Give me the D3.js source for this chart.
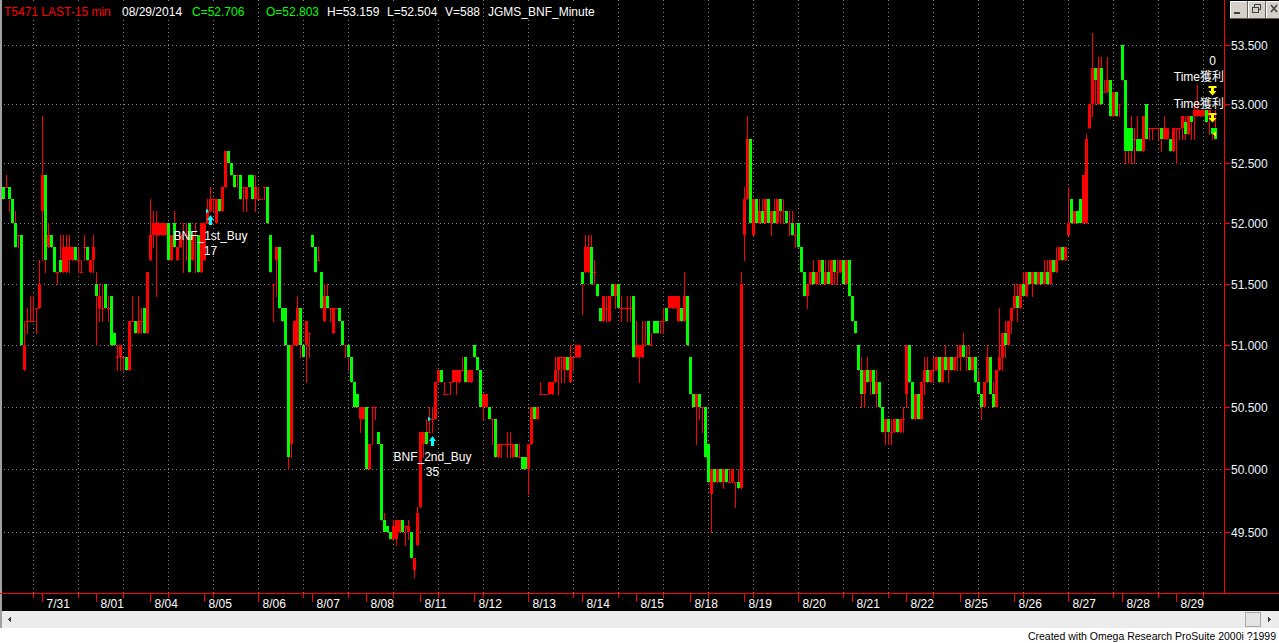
<!DOCTYPE html>
<html><head><meta charset="utf-8">
<script src="https://cdn.jsdelivr.net/npm/d3@7"></script>
<style>
html,body{margin:0;padding:0;background:#fff;overflow:hidden}
svg{display:block}
text{font-family:"Liberation Sans",Arial,"Noto Sans CJK TC","Noto Sans CJK SC",sans-serif;}
</style></head><body>
<svg id="c" width="1279" height="643"></svg>
<script>
// ---------------- DATA ----------------
const headerFields = ["T5471 LAST-15 min","08/29/2014","C=52.706","O=52.803","H=53.159","L=52.504","V=588","JGMS_BNF_Minute"];
const priceTicks = [49.5,50.0,50.5,51.0,51.5,52.0,52.5,53.0,53.5];
const dayLabels = ["7/31","8/01","8/04","8/05","8/06","8/07","8/08","8/11","8/12","8/13","8/14","8/15","8/18","8/19","8/20","8/21","8/22","8/25","8/26","8/27","8/28","8/29"];
const firstSessionBars = 13, barsPerSession = 18;
// 15-min bars: [open, high, low, close]
const ohlc = [
// 7/30
[52.3,52.3,52.2,52.2],[52.3,52.4,52.3,52.3],[52.3,52.3,52.1,52.2],[52.2,52.2,52.0,52.0],[52.0,52.1,51.8,51.8],
[51.9,51.9,51.8,51.9],[51.9,51.9,51.0,51.0],[50.8,51.2,50.8,51.0],[51.2,51.3,51.1,51.2],[51.2,51.4,51.2,51.2],
[51.2,51.4,51.2,51.2],[51.3,51.3,51.1,51.3],[51.3,51.7,51.3,51.5],
// 7/31
[52.1,52.9,51.7,52.4],[52.4,52.4,51.6,51.7],[51.8,52.0,51.8,51.9],[51.9,51.9,51.8,51.8],[51.8,51.8,51.6,51.6],
[51.6,51.6,51.5,51.6],[51.7,51.9,51.6,51.6],[51.6,51.9,51.6,51.8],[51.6,51.9,51.6,51.8],[51.7,51.9,51.6,51.8],
[51.7,51.8,51.7,51.8],[51.8,51.8,51.7,51.7],[51.7,51.8,51.6,51.7],[51.6,51.7,51.6,51.6],[51.8,51.9,51.7,51.8],
[51.8,51.8,51.7,51.7],[51.6,51.7,51.6,51.7],[51.7,51.9,51.6,51.8],
// 8/01
[51.5,51.6,51.0,51.4],[51.3,51.5,51.2,51.4],[51.3,51.5,51.2,51.3],[51.5,51.5,51.3,51.3],[51.3,51.4,51.2,51.3],
[51.4,51.4,51.0,51.0],[51.1,51.1,51.0,51.0],[50.9,51.0,50.8,50.9],[50.9,51.0,50.8,51.0],[50.9,50.9,50.8,50.9],
[50.9,50.9,50.8,50.8],[50.8,51.2,50.8,51.2],[51.2,51.4,51.2,51.2],[51.2,51.2,51.1,51.1],[51.1,51.4,51.1,51.2],
[51.2,51.3,51.1,51.2],[51.3,51.3,51.1,51.1],[51.1,51.6,51.1,51.6],
// 8/04
[51.7,52.2,51.7,51.9],[51.9,52.1,51.8,52.0],[51.9,52.1,51.4,52.0],[51.9,52.0,51.9,52.0],[51.9,52.0,51.9,52.0],
[51.9,52.0,51.9,52.0],[52.0,52.0,51.7,51.7],[51.7,51.9,51.7,51.9],[52.0,52.1,51.8,51.8],[51.7,51.8,51.7,51.8],
[51.8,51.9,51.8,51.9],[51.9,52.0,51.6,51.9],[51.9,52.0,51.7,51.9],[52.0,52.0,51.6,51.6],[51.7,51.9,51.7,51.9],
[51.9,52.0,51.6,51.9],[51.9,51.9,51.6,51.6],[51.6,52.0,51.6,52.0],
// 8/05
[51.7,52.0,51.7,52.0],[52.0,52.2,52.0,52.1],[52.1,52.3,52.1,52.2],[52.2,52.2,52.1,52.2],[52.0,52.2,52.0,52.2],
[52.2,52.2,52.1,52.1],[52.1,52.3,52.1,52.3],[52.3,52.6,52.3,52.6],[52.6,52.6,52.5,52.5],[52.5,52.5,52.4,52.4],
[52.4,52.4,52.3,52.3],[52.4,52.4,52.3,52.4],[52.4,52.4,52.2,52.2],[52.3,52.3,52.1,52.3],[52.2,52.3,52.1,52.3],
[52.4,52.4,52.3,52.3],[52.4,52.4,52.2,52.2],[52.2,52.4,52.1,52.3],
// 8/06
[52.2,52.3,52.2,52.2],[52.2,52.2,52.2,52.2],[52.3,52.3,52.2,52.3],[52.3,52.3,52.0,52.0],[51.9,51.9,51.6,51.6],
[51.5,51.5,51.2,51.5],[51.7,51.8,51.4,51.8],[51.8,51.8,51.3,51.3],[51.3,51.3,51.2,51.2],[51.3,51.3,51.0,51.0],
[51.0,51.0,50.0,50.1],[50.2,51.0,50.1,51.0],[51.0,51.2,51.0,51.2],[51.0,51.4,51.0,51.3],[51.3,51.3,50.9,51.0],
[51.0,51.0,50.9,50.9],[51.0,51.2,50.7,51.2],[51.1,51.1,50.9,51.1],
// 8/07
[51.9,51.9,51.8,51.8],[51.8,51.8,51.6,51.6],[51.7,51.8,51.7,51.7],[51.6,51.6,51.3,51.3],[51.2,51.5,51.2,51.4],
[51.4,51.5,51.3,51.3],[51.3,51.3,51.2,51.3],[51.1,51.3,51.1,51.3],[51.3,51.3,51.3,51.3],[51.3,51.3,51.2,51.2],
[51.2,51.2,51.0,51.0],[51.0,51.0,50.9,51.0],[51.0,51.0,50.8,50.9],[50.9,50.9,50.7,50.7],[50.7,50.7,50.5,50.5],
[50.6,50.6,50.5,50.5],[50.4,50.5,50.3,50.5],[50.4,50.5,50.4,50.5],
// 8/08
[50.5,50.5,50.0,50.0],[50.0,50.2,50.0,50.2],[50.5,50.5,50.2,50.5],[50.5,50.5,50.4,50.5],[50.3,50.3,50.2,50.2],
[50.2,50.2,49.6,49.6],[49.6,49.65,49.5,49.5],[49.55,49.55,49.5,49.5],[49.5,49.5,49.45,49.45],[49.45,49.6,49.45,49.55],
[49.45,49.6,49.4,49.6],[49.5,49.6,49.5,49.6],[49.6,49.6,49.5,49.5],[49.55,49.55,49.4,49.55],[49.5,49.6,49.45,49.55],
[49.5,49.5,49.3,49.3],[49.2,49.3,49.15,49.3],[49.4,49.7,49.4,49.65],
// 8/11
[49.7,50.3,49.7,50.3],[50.2,50.3,50.1,50.3],[50.3,50.4,50.2,50.2],[50.3,50.5,50.3,50.3],[50.4,50.5,50.3,50.4],
[50.4,50.7,50.4,50.7],[50.7,50.8,50.7,50.8],[50.8,50.8,50.7,50.7],[50.6,50.7,50.6,50.6],[50.6,50.6,50.6,50.6],
[50.7,50.7,50.6,50.7],[50.7,50.8,50.7,50.8],[50.7,50.8,50.6,50.8],[50.7,50.8,50.7,50.8],[50.8,50.9,50.8,50.8],
[50.9,50.9,50.7,50.7],[50.7,50.8,50.7,50.8],[50.7,50.8,50.7,50.8],
// 8/12
[51.0,51.0,50.9,50.9],[50.9,50.9,50.8,50.8],[50.8,50.8,50.5,50.5],[50.5,50.6,50.4,50.6],[50.5,50.6,50.5,50.6],
[50.5,50.5,50.4,50.4],[50.4,50.4,50.2,50.4],[50.4,50.4,50.1,50.1],[50.1,50.2,50.1,50.2],[50.2,50.2,50.1,50.2],
[50.2,50.2,50.2,50.2],[50.2,50.3,50.1,50.2],[50.2,50.3,50.1,50.2],[50.1,50.2,50.1,50.2],[50.2,50.2,50.1,50.1],
[50.1,50.2,50.1,50.1],[50.1,50.1,50.0,50.0],[50.1,50.1,50.0,50.0],
// 8/13
[50.0,50.2,49.8,50.2],[50.2,50.5,50.2,50.5],[50.5,50.5,50.4,50.4],[50.4,50.5,50.4,50.5],[50.6,50.7,50.6,50.6],
[50.6,50.6,50.6,50.6],[50.6,50.6,50.6,50.6],[50.6,50.7,50.6,50.7],[50.6,50.7,50.6,50.7],[50.7,50.9,50.7,50.8],
[50.8,50.9,50.6,50.9],[50.9,50.9,50.7,50.9],[50.8,50.9,50.7,50.9],[50.9,50.9,50.8,50.8],[50.7,51.0,50.7,50.9],
[50.9,50.9,50.8,50.9],[50.9,51.0,50.9,51.0],[50.9,51.0,50.9,51.0],
// 8/14
[51.6,51.6,51.25,51.5],[51.6,51.9,51.6,51.8],[51.6,51.9,51.6,51.8],[51.8,51.9,51.5,51.5],[51.6,51.7,51.5,51.6],
[51.5,51.5,51.4,51.4],[51.3,51.3,51.2,51.2],[51.2,51.4,51.2,51.4],[51.3,51.4,51.2,51.3],[51.2,51.4,51.2,51.4],
[51.5,51.5,51.4,51.4],[51.4,51.5,51.3,51.5],[51.5,51.5,51.3,51.3],[51.3,51.4,51.2,51.3],[51.3,51.3,51.3,51.3],
[51.3,51.4,51.2,51.3],[51.3,51.4,51.2,51.3],[51.4,51.4,50.9,50.9],
// 8/15
[50.9,51.2,50.9,51.0],[50.9,51.0,50.7,51.0],[50.9,51.2,50.9,51.0],[51.0,51.2,51.0,51.0],[51.2,51.2,51.0,51.0],
[51.0,51.1,51.0,51.0],[51.2,51.2,51.1,51.1],[51.2,51.2,51.1,51.1],[51.2,51.2,51.1,51.2],[51.2,51.3,51.1,51.2],
[51.3,51.3,51.2,51.2],[51.3,51.4,51.3,51.4],[51.3,51.4,51.3,51.4],[51.3,51.4,51.3,51.4],[51.2,51.4,51.2,51.4],
[51.3,51.3,51.2,51.2],[51.2,51.6,51.2,51.4],[51.4,51.4,51.0,51.0],
// 8/18
[50.9,50.9,50.6,50.6],[50.6,50.6,50.5,50.5],[50.5,50.6,50.2,50.6],[50.6,50.6,50.4,50.5],[50.5,50.5,50.3,50.5],
[50.5,50.5,50.1,50.1],[50.2,50.2,49.9,49.9],[49.8,50.0,49.5,50.0],[50.0,50.0,49.9,49.9],[49.9,50.0,49.9,50.0],
[50.0,50.0,49.9,49.9],[49.9,50.0,49.85,50.0],[50.0,50.0,49.9,49.9],[49.9,50.0,49.9,49.9],[49.9,50.0,49.9,50.0],
[49.9,49.9,49.7,49.9],[49.9,50.0,49.85,49.85],[49.85,51.6,49.85,51.5],
// 8/19
[51.9,52.3,51.7,52.2],[52.2,52.9,52.2,52.7],[52.7,52.7,52.0,52.0],[51.9,52.2,51.9,52.2],[52.2,52.2,52.0,52.0],
[52.0,52.2,52.0,52.1],[52.1,52.2,52.0,52.0],[52.0,52.2,52.0,52.2],[52.2,52.2,52.0,52.0],[52.0,52.1,51.9,52.1],
[52.1,52.2,52.0,52.0],[52.0,52.2,52.0,52.2],[52.2,52.2,52.0,52.1],[52.1,52.2,52.0,52.1],[52.1,52.1,52.0,52.0],
[52.0,52.1,51.9,52.0],[52.0,52.1,51.9,51.9],[51.9,52.0,51.8,51.9],
// 8/20
[52.0,52.0,51.8,51.8],[51.8,51.8,51.6,51.6],[51.6,51.6,51.4,51.4],[51.4,51.5,51.3,51.5],[51.5,51.6,51.5,51.6],
[51.6,51.7,51.5,51.5],[51.5,51.6,51.5,51.6],[51.6,51.7,51.5,51.7],[51.7,51.7,51.5,51.5],[51.5,51.7,51.5,51.6],
[51.6,51.7,51.5,51.5],[51.5,51.7,51.5,51.7],[51.7,51.7,51.5,51.6],[51.6,51.7,51.5,51.6],[51.6,51.7,51.6,51.7],
[51.7,51.7,51.5,51.5],[51.5,51.7,51.5,51.7],[51.7,51.7,51.4,51.4],
// 8/21
[51.4,51.4,51.2,51.2],[51.2,51.2,51.1,51.1],[51.0,51.0,50.8,50.8],[50.8,50.9,50.5,50.6],[50.6,50.8,50.5,50.8],
[50.8,50.9,50.7,50.7],[50.7,50.8,50.6,50.8],[50.8,50.8,50.6,50.6],[50.6,50.8,50.5,50.7],[50.7,50.7,50.5,50.5],
[50.5,50.5,50.3,50.3],[50.3,50.4,50.2,50.4],[50.4,50.4,50.2,50.3],[50.3,50.4,50.2,50.3],[50.3,50.4,50.3,50.4],
[50.4,50.4,50.3,50.3],[50.3,50.4,50.3,50.4],[50.4,50.5,50.3,50.4],
// 8/22
[50.6,51.0,50.5,51.0],[51.0,51.0,50.7,50.7],[50.7,50.7,50.4,50.4],[50.4,50.6,50.4,50.6],[50.6,50.6,50.4,50.4],
[50.4,50.7,50.4,50.7],[50.7,50.9,50.6,50.8],[50.8,50.9,50.7,50.7],[50.7,50.8,50.7,50.8],[50.8,50.9,50.7,50.8],
[50.8,50.9,50.8,50.9],[50.9,50.9,50.7,50.7],[50.7,50.9,50.7,50.9],[50.9,51.0,50.8,50.8],[50.8,50.9,50.7,50.9],
[50.9,50.9,50.8,50.8],[50.8,50.9,50.8,50.9],[50.9,51.0,50.8,50.9],
// 8/25
[50.9,51.0,50.8,51.0],[51.0,51.1,50.9,50.9],[50.9,51.0,50.8,50.9],[50.9,51.0,50.8,50.8],[50.8,50.9,50.8,50.9],
[50.9,50.9,50.7,50.7],[50.7,50.8,50.6,50.6],[50.6,50.6,50.4,50.5],[50.5,50.7,50.5,50.7],[50.7,51.0,50.7,50.9],
[50.9,50.9,50.6,50.6],[50.6,50.7,50.5,50.5],[50.5,50.8,50.5,50.8],[50.8,51.3,50.8,50.9],[50.9,51.1,50.8,51.1],
[51.1,51.2,50.9,51.0],[51.0,51.2,51.0,51.2],[51.2,51.3,51.1,51.3],
// 8/26
[51.3,51.5,51.3,51.4],[51.4,51.5,51.2,51.3],[51.3,51.5,51.3,51.5],[51.5,51.6,51.4,51.4],[51.4,51.6,51.4,51.6],
[51.6,51.6,51.5,51.5],[51.5,51.6,51.4,51.6],[51.6,51.6,51.5,51.5],[51.5,51.6,51.5,51.6],[51.6,51.6,51.5,51.5],
[51.5,51.7,51.5,51.6],[51.6,51.7,51.5,51.5],[51.5,51.7,51.5,51.7],[51.7,51.7,51.6,51.6],[51.6,51.8,51.6,51.7],
[51.7,51.8,51.7,51.8],[51.8,51.8,51.7,51.7],[51.7,51.8,51.7,51.8],
// 8/27
[51.9,52.3,51.9,52.0],[52.2,52.2,52.0,52.0],[52.0,52.1,52.0,52.1],[52.1,52.1,52.0,52.0],[52.2,52.2,52.0,52.0],
[52.0,52.4,52.0,52.4],[52.0,52.75,52.0,52.7],[52.8,53.0,52.8,53.0],[53.0,53.6,52.9,53.3],[53.3,53.3,53.0,53.2],
[53.0,53.4,53.0,53.3],[53.3,53.4,53.0,53.0],[53.1,53.2,53.1,53.1],[53.1,53.4,53.1,53.2],[53.2,53.2,52.9,52.9],
[52.9,53.1,52.9,53.1],[53.1,53.1,52.9,52.9],[53.0,53.0,52.9,53.0],
// 8/28
[53.5,53.5,53.2,53.2],[53.2,53.2,52.5,52.6],[52.8,52.8,52.5,52.6],[52.8,52.9,52.5,52.6],[52.7,52.8,52.5,52.7],
[52.7,52.9,52.6,52.6],[52.7,52.7,52.6,52.6],[52.6,52.9,52.6,52.9],[53.0,53.0,52.7,52.7],[52.8,52.8,52.7,52.8],
[52.8,52.8,52.7,52.8],[52.8,52.8,52.8,52.8],[52.8,52.8,52.7,52.8],[52.8,52.8,52.6,52.7],[52.7,52.9,52.7,52.8],
[52.7,52.8,52.7,52.8],[52.7,52.7,52.6,52.6],[52.6,52.8,52.6,52.8],
// 8/29
[52.8,52.8,52.5,52.8],[52.8,52.8,52.7,52.8],[52.8,52.9,52.7,52.9],[52.85,52.9,52.7,52.75],[52.75,52.9,52.75,52.9],
[52.9,52.9,52.7,52.85],[52.9,53.0,52.7,52.95],[52.9,53.16,52.9,52.95],[52.9,52.95,52.9,52.95],[52.9,52.95,52.9,52.95],
[52.95,52.95,52.85,52.85],[52.9,52.95,52.75,52.95],[52.8,52.8,52.7,52.75],[52.8,52.95,52.7,52.7]
];
// strategy signals
const entries = [
  {bar:69, price:52.1, label:"BNF_1st_Buy", qty:"17"},
  {bar:143, price:50.4, label:"BNF_2nd_Buy", qty:"35"}
];
const exits = [
  {bar:403, price:52.75, label:"Time獲利", pnl:"0"},
  {bar:403, price:52.75, label:"Time獲利", pnl:""}
];
const footerText = "Created with Omega Research ProSuite 2000i ?1999";

// ---------------- DRAW ----------------
const W = 1279, H = 643;
const plotL = 2, plotR = 1224, plotB = 593;
const svg = d3.select("#c").attr("shape-rendering","crispEdges");

const bars = ohlc.map((d,i)=>({i, o:d[0], h:Math.max(d[0],d[1],d[2],d[3]), l:Math.min(d[0],d[1],d[2],d[3]), c:d[3]}));
const x = d3.scaleLinear().domain([0, bars.length-1]).range([3.5, 3.5 + 3*(bars.length-1)]);
const y = d3.scaleLog().domain([49.5, 53.5]).range([532.3, 45]);
const ry = v => Math.round(y(v));

// backgrounds
svg.append("rect").attr("x",0).attr("y",0).attr("width",W).attr("height",H).attr("fill","#ffffff");
svg.append("rect").attr("x",0).attr("y",0).attr("width",W).attr("height",611).attr("fill","#000000");
svg.append("rect").attr("x",0).attr("y",0).attr("width",2).attr("height",628).attr("fill","#a0a0a0");

const defs = svg.append("defs");
defs.append("clipPath").attr("id","plotclip").append("rect").attr("x",plotL).attr("y",0).attr("width",plotR-plotL).attr("height",plotB);

const grid = svg.append("g").attr("clip-path","url(#plotclip)");
// horizontal grid
grid.selectAll("line.hg").data(priceTicks).join("line")
  .attr("x1",4).attr("x2",plotR).attr("y1",d=>ry(d)+0.5).attr("y2",d=>ry(d)+0.5)
  .attr("stroke","#8a8a8a").attr("stroke-width",1).attr("stroke-dasharray","1,3");
// vertical grid every 15 bars
const gridBars = d3.range(10, bars.length, 15);
grid.selectAll("line.vg").data(gridBars).join("line")
  .attr("x1",d=>x(d)).attr("x2",d=>x(d)).attr("y1",0).attr("y2",plotB)
  .attr("stroke","#8a8a8a").attr("stroke-width",1).attr("stroke-dasharray","1,3");

// header
const hx = [4,122,192,266,327,387,445,488];
const hcol = ["#ff0000","#ffffff","#00ff00","#00ff00","#ffffff","#ffffff","#ffffff","#ffffff"];
const hg = svg.append("g");
headerFields.forEach((t,k)=>{
  const bg = hg.append("rect").attr("fill","#000");
  const tx = hg.append("text").attr("x",hx[k]).attr("y",16).attr("font-size",12).attr("fill",hcol[k]).text(t);
  const bb = tx.node().getBBox();
  bg.attr("x",bb.x-2).attr("y",2).attr("width",bb.width+4).attr("height",17);
});

// candles
const cg = svg.append("g").attr("clip-path","url(#plotclip)");
cg.selectAll("rect.wick").data(bars).join("rect").attr("class","wick")
  .attr("x",d=>x(d.i)-0.5).attr("width",1)
  .attr("y",d=>ry(d.h)).attr("height",d=>ry(d.l)-ry(d.h)+1)
  .attr("fill","#ff0000");
cg.selectAll("rect.body").data(bars).join("rect").attr("class","body")
  .attr("x",d=>x(d.i)-1.5).attr("width",3)
  .attr("y",d=>ry(Math.max(d.o,d.c)))
  .attr("height",d=>Math.max(1, ry(Math.min(d.o,d.c))-ry(Math.max(d.o,d.c))))
  .attr("fill",d=>d.c<d.o ? "#00ff00" : "#ff0000");

// entry markers
const ag = svg.append("g").attr("clip-path","url(#plotclip)");
entries.forEach(e=>{
  const xc = x(e.bar), yl = ry(bars[e.bar].l), ye = ry(e.price);
  ag.append("path").attr("d",`M${xc-4.5},${ye-2.5}L${xc-1.5},${ye}L${xc-4.5},${ye+2.5}Z`).attr("fill","#00ffff").attr("shape-rendering","auto");
  const t = yl+4;
  ag.append("path").attr("d",`M${xc},${t}L${xc+3.5},${t+5}L${xc+1.5},${t+5}L${xc+1.5},${t+10}L${xc-1.5},${t+10}L${xc-1.5},${t+5}L${xc-3.5},${t+5}Z`).attr("fill","#00ffff").attr("shape-rendering","auto");
  ag.append("text").attr("x",xc).attr("y",yl+28.5).attr("text-anchor","middle").attr("font-size",12).attr("fill","#ffffff").text(e.label);
  ag.append("text").attr("x",xc).attr("y",yl+43.5).attr("text-anchor","middle").attr("font-size",12).attr("fill","#ffffff").text(e.qty);
});
// exit markers (stacked)
exits.forEach((e,k)=>{
  const xc = x(e.bar), yh = ry(bars[e.bar].h);
  const level = exits.length-1-k;
  const t = yh - 15 - level*27;
  ag.append("path").attr("d",`M${xc-4},${t}H${xc+4}V${t+2}H${xc+1.5}V${t+5}H${xc+4}L${xc},${t+9.5}L${xc-4},${t+5}H${xc-1.5}V${t+2}H${xc-4}Z`).attr("fill","#ffff00").attr("shape-rendering","auto");
  ag.append("text").attr("x",plotR).attr("y",t-5.5).attr("text-anchor","end").attr("font-size",12).attr("fill","#ffffff").text(e.label);
  if(e.pnl!=="") ag.append("text").attr("x",xc).attr("y",t-21.5).attr("text-anchor","middle").attr("font-size",12).attr("fill","#ffffff").text(e.pnl);
  const ye = ry(e.price);
  ag.append("path").attr("d",`M${xc+0.5},${ye}L${xc+3.5},${ye-2.5}L${xc+3.5},${ye+2.5}Z`).attr("fill","#ffff00").attr("shape-rendering","auto");
});

// right axis
svg.append("line").attr("x1",plotR+0.5).attr("x2",plotR+0.5).attr("y1",0).attr("y2",plotB+1).attr("stroke","#ff0000");
const ya = svg.append("g");
ya.selectAll("line").data(priceTicks).join("line")
  .attr("x1",plotR).attr("x2",plotR+6).attr("y1",d=>ry(d)+0.5).attr("y2",d=>ry(d)+0.5).attr("stroke","#ff0000");
ya.selectAll("text").data(priceTicks).join("text")
  .attr("x",plotR+7).attr("y",d=>ry(d)+4.5).attr("font-size",12).attr("fill","#eef6ff")
  .text(d=>d3.format(".3f")(d));

// bottom axis
svg.append("line").attr("x1",0).attr("x2",W).attr("y1",plotB+0.5).attr("y2",plotB+0.5).attr("stroke","#ff0000");
const dayStart = dayLabels.map((_,k)=>firstSessionBars + barsPerSession*k);
const xa = svg.append("g");
xa.selectAll("line.tall").data(dayStart).join("line").attr("class","tall")
  .attr("x1",d=>x(d)).attr("x2",d=>x(d)).attr("y1",plotB).attr("y2",plotB+9).attr("stroke","#ff0000");
xa.selectAll("line.short").data(gridBars).join("line").attr("class","short")
  .attr("x1",d=>x(d)).attr("x2",d=>x(d)).attr("y1",plotB).attr("y2",plotB+5).attr("stroke","#ff0000");
xa.selectAll("text").data(dayStart).join("text")
  .attr("x",d=>x(d)+4).attr("y",608).attr("font-size",12).attr("fill","#ffffff")
  .text((d,k)=>dayLabels[k]);

// window buttons (top right)
const btn = svg.append("g");
[1230,1248,1266].forEach((bx,k)=>{
  btn.append("rect").attr("x",bx).attr("y",1).attr("width",17).attr("height",17).attr("fill","#d4d0c8");
  btn.append("path").attr("d",`M${bx},${18}V1H${bx+17}`).attr("stroke","#ffffff").attr("fill","none");
  btn.append("path").attr("d",`M${bx},${18.5}H${bx+17.5}V1`).attr("stroke","#606060").attr("fill","none");
});
btn.append("rect").attr("x",1234).attr("y",12).attr("width",6).attr("height",2).attr("fill","#404040");
btn.append("rect").attr("x",1254.5).attr("y",4.5).attr("width",6).attr("height",5).attr("fill","none").attr("stroke","#404040");
btn.append("rect").attr("x",1252.5).attr("y",7.5).attr("width",6).attr("height",5).attr("fill","#d4d0c8").attr("stroke","#404040");
btn.append("path").attr("d","M1271,5L1277,12M1277,5L1271,12").attr("stroke","#404040").attr("stroke-width",1.5).attr("shape-rendering","auto");

// scrollbar
svg.append("rect").attr("x",2).attr("y",611).attr("width",W-2).attr("height",17).attr("fill","#ececec");
svg.append("path").attr("d","M8,619.5L11,616.5V622.5Z").attr("fill","#404040");
svg.append("rect").attr("x",1245.5).attr("y",612.5).attr("width",15).attr("height",14).attr("fill","#e3e3e3").attr("stroke","#a8a8a8");
svg.append("path").attr("d","M1271,619.5L1268,616.5V622.5Z").attr("fill","#404040");

// footer
svg.append("text").attr("x",1276).attr("y",640).attr("text-anchor","end").attr("font-size",10.5).attr("fill","#000").text(footerText);
</script>
</body></html>
